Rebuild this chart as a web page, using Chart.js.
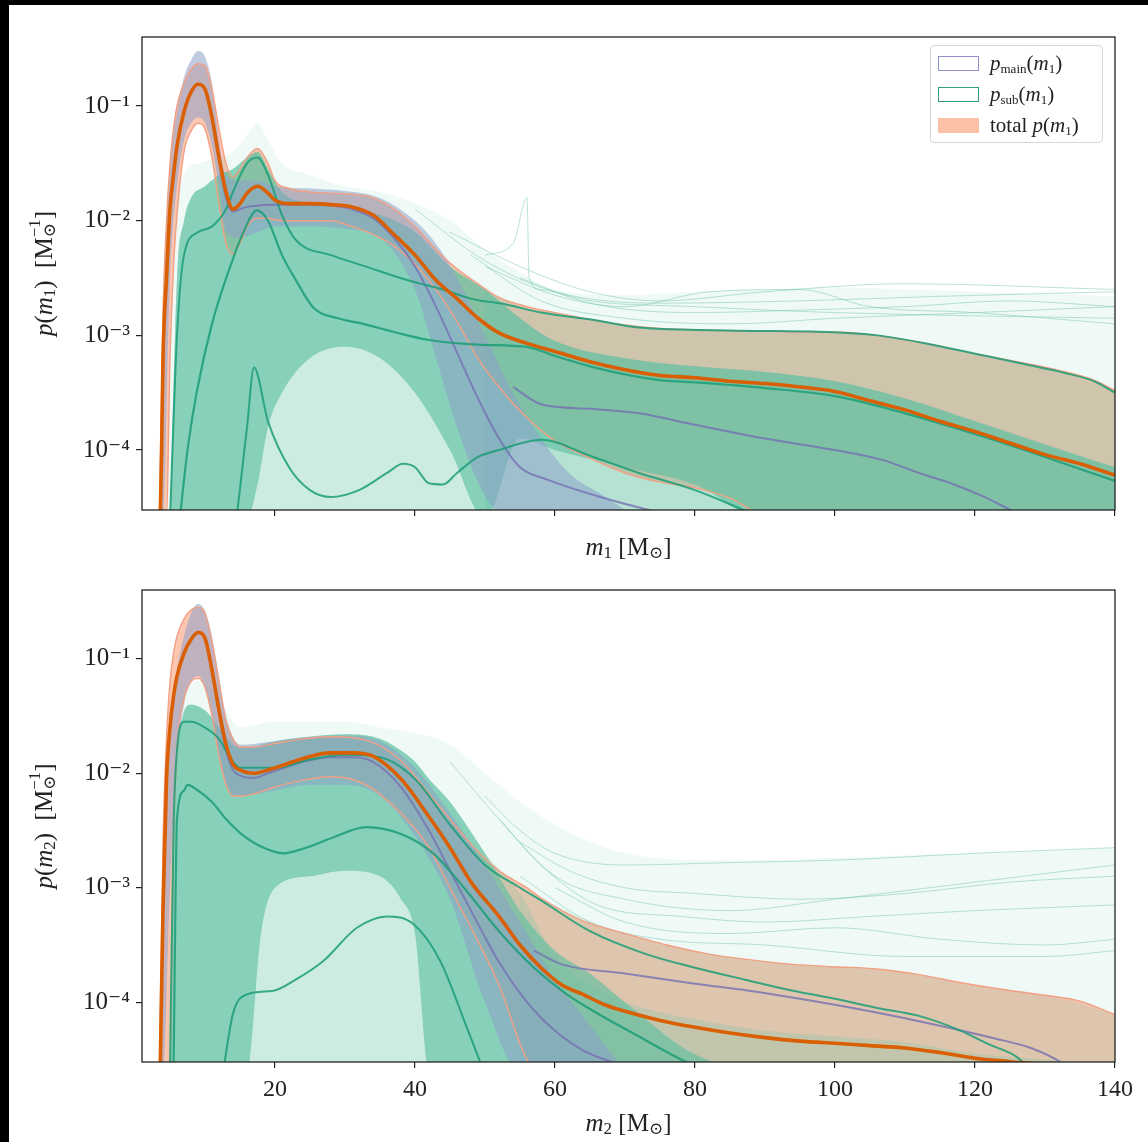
<!DOCTYPE html>
<html><head><meta charset="utf-8">
<script src="https://cdn.jsdelivr.net/npm/chart.js@4.4.1/dist/chart.umd.min.js"></script>
<style>
html,body{margin:0;padding:0;background:#fff;}
body{width:1148px;height:1142px;position:relative;overflow:hidden;font-family:"Liberation Serif","DejaVu Serif",serif;}
#c1{position:absolute;left:0;top:0;}
#c2{position:absolute;left:0;top:566px;}
.blkTop{position:absolute;left:0;top:0;width:1148px;height:5px;background:#000;}
.blkLeft{position:absolute;left:0;top:0;width:9px;height:1142px;background:#000;}
#legend{position:absolute;left:930px;top:45px;width:173px;height:98px;border:1px solid #d6d6d6;border-radius:4px;background:rgba(255,255,255,0.85);box-sizing:border-box;}
#legend .row{position:absolute;left:7px;height:18px;display:flex;align-items:center;}
#legend .sw{display:inline-block;width:41px;height:15px;box-sizing:border-box;margin-right:11px;}
#legend .tx{font-size:21px;color:#222;line-height:18px;white-space:nowrap;}
#legend sub{font-size:13px;vertical-align:-3px;line-height:0;}
</style></head><body>
<canvas id="c1" width="1148" height="566"></canvas>
<canvas id="c2" width="1148" height="576"></canvas>
<div id="legend">
  <div class="row" style="top:8px"><span class="sw" style="border:1.6px solid #8f92c9"></span><span class="tx"><i>p</i><sub>main</sub>(<i>m</i><sub>1</sub>)</span></div>
  <div class="row" style="top:39px"><span class="sw" style="border:1.6px solid #2f9f7d"></span><span class="tx"><i>p</i><sub>sub</sub>(<i>m</i><sub>1</sub>)</span></div>
  <div class="row" style="top:70px"><span class="sw" style="background:#fcc0a5"></span><span class="tx">total <i>p</i>(<i>m</i><sub>1</sub>)</span></div>
</div>
<div class="blkTop"></div><div class="blkLeft"></div>
<script>
// ---------- axis ticks ----------
const xTicks = [20, 40, 60, 80, 100, 120, 140];
const yTicks = [1e-4, 1e-3, 1e-2, 1e-1];

// ================= TOP PANEL (m1) =================
const xTotMed1 = [3.6, 3.8, 4, 4.5, 5, 5.5, 6, 7, 8, 9, 10, 11, 12, 13, 14, 15, 16, 17.5, 19, 20, 22, 25, 28, 31, 34, 37, 40, 43, 46, 49, 52, 56, 60, 65, 70, 75, 80, 85, 90, 95, 100, 105, 110, 115, 120, 125, 130, 135, 140];
const yTotMed1 = [2.5e-5, 1.0e-4, 6.3e-4, 3.16e-3, 1.26e-2, 2.51e-2, 4.47e-2, 8.91e-2, 0.132, 0.155, 0.141, 7.94e-2, 3.55e-2, 1.78e-2, 1.26e-2, 1.41e-2, 1.74e-2, 2.0e-2, 1.74e-2, 1.51e-2, 1.41e-2, 1.41e-2, 1.38e-2, 1.32e-2, 1.12e-2, 7.59e-3, 5.01e-3, 3.02e-3, 2.09e-3, 1.41e-3, 1.05e-3, 8.51e-4, 7.24e-4, 5.89e-4, 5.01e-4, 4.47e-4, 4.27e-4, 3.98e-4, 3.8e-4, 3.55e-4, 3.24e-4, 2.69e-4, 2.24e-4, 1.78e-4, 1.45e-4, 1.15e-4, 9.12e-5, 7.59e-5, 6.03e-5];

const xTotBand1 = [3.5, 4, 4.5, 5, 5.5, 6, 7, 8, 9, 10, 11, 12, 13, 14, 15, 16, 17.5, 19, 20, 22, 25, 28, 31, 34, 37, 40, 43, 46, 49, 52, 56, 60, 65, 70, 75, 80, 85, 89, 95, 100, 106, 113, 120, 127, 133, 137, 140];
const yTotUp1 = [2.5e-5, 1.58e-3, 1.0e-2, 3.16e-2, 6.31e-2, 0.1, 0.158, 0.209, 0.234, 0.224, 0.141, 6.31e-2, 3.16e-2, 2.4e-2, 2.82e-2, 3.55e-2, 4.27e-2, 3.16e-2, 2.24e-2, 1.91e-2, 1.78e-2, 1.74e-2, 1.7e-2, 1.58e-2, 1.26e-2, 8.91e-3, 5.62e-3, 3.8e-3, 2.82e-3, 2.14e-3, 1.78e-3, 1.58e-3, 1.38e-3, 1.23e-3, 1.15e-3, 1.12e-3, 1.1e-3, 1.1e-3, 1.07e-3, 1.07e-3, 1.0e-3, 8.51e-4, 6.92e-4, 5.75e-4, 4.79e-4, 4.07e-4, 3.31e-4];
const yTotLo1 = [2.5e-5, 2.5e-5, 2.5e-5, 6.31e-4, 3.98e-3, 1.12e-2, 3.98e-2, 6.03e-2, 7.08e-2, 6.31e-2, 3.55e-2, 1.41e-2, 6.31e-3, 5.13e-3, 6.31e-3, 8.91e-3, 1.05e-2, 1.05e-2, 1.02e-2, 1.0e-2, 1.0e-2, 1.0e-2, 8.91e-3, 7.59e-3, 6.03e-3, 4.17e-3, 2.51e-3, 1.32e-3, 6.31e-4, 3.55e-4, 1.91e-4, 1.2e-4, 8.51e-5, 6.31e-5, 5.25e-5, 4.68e-5, 3.8e-5, 2.82e-5, 2.5e-5, 2.5e-5, 2.5e-5, 2.5e-5, 2.5e-5, 2.5e-5, 2.5e-5, 2.5e-5, 2.5e-5];

// envelope of the faint sub-population draws
const xSparse1 = [4.5, 5.5, 7, 9, 12, 14, 16, 17.5, 19, 21, 25, 30, 35, 40, 45, 50, 55, 60, 70, 80, 90, 100, 110, 120, 130, 140];
const ySparse1 = [2.5e-5, 5.01e-3, 2.51e-2, 3.16e-2, 3.55e-2, 3.98e-2, 5.62e-2, 7.08e-2, 5.01e-2, 3.16e-2, 2.51e-2, 2.0e-2, 1.78e-2, 1.41e-2, 1.0e-2, 5.62e-3, 3.55e-3, 2.51e-3, 2.24e-3, 2.4e-3, 2.51e-3, 2.63e-3, 2.51e-3, 2.4e-3, 2.29e-3, 2.19e-3];
// draws crossing the upper part of the total band at high mass
const xMid1 = [50, 55, 60, 70, 80, 90, 100, 110, 120, 130, 140];
const yMid1 = [2.51e-3, 1.78e-3, 1.58e-3, 1.23e-3, 1.12e-3, 1.1e-3, 1.07e-3, 9.0e-4, 6.92e-4, 5.25e-4, 3.31e-4];
// envelope of the bulk and the dense core of the sub-population draws
const xDense1 = [5, 6, 7, 8, 10, 12, 14, 16, 17.5, 19, 21, 25, 30, 35, 40, 45, 50, 55, 60, 70, 80, 90, 100, 110, 120, 130, 140];
const yBulkUp1 = [2.5e-5, 3.16e-3, 1.0e-2, 1.58e-2, 2.0e-2, 2.51e-2, 2.82e-2, 3.55e-2, 3.98e-2, 2.82e-2, 1.78e-2, 1.41e-2, 1.26e-2, 1.12e-2, 7.94e-3, 3.98e-3, 2.51e-3, 1.41e-3, 8.91e-4, 6.31e-4, 5.37e-4, 4.79e-4, 3.98e-4, 2.82e-4, 1.78e-4, 1.12e-4, 7.08e-5];
const yDenseUp1 = [2.5e-5, 3.16e-3, 1.0e-2, 1.58e-2, 2.0e-2, 2.51e-2, 2.82e-2, 3.55e-2, 3.98e-2, 2.82e-2, 1.78e-2, 1.41e-2, 1.26e-2, 1.12e-2, 7.94e-3, 3.98e-3, 2.51e-3, 1.41e-3, 8.91e-4, 6.31e-4, 5.37e-4, 4.79e-4, 3.98e-4, 2.82e-4, 1.78e-4, 1.12e-4, 7.08e-5];
const yDenseLo1 = [2.5e-5, 2.5e-5, 2.5e-5, 2.5e-5, 2.5e-5, 2.5e-5, 2.5e-5, 2.5e-5, 5.01e-5, 1.58e-4, 3.16e-4, 6.31e-4, 7.94e-4, 6.31e-4, 3.16e-4, 1.0e-4, 2.5e-5, 1.26e-4, 1.0e-4, 7.08e-5, 5.01e-5, 2.5e-5, 2.5e-5, 2.5e-5, 2.5e-5, 2.5e-5, 2.5e-5];
// envelope of the main-population draws
const xMainBand1 = [3.5, 4, 5, 6, 7, 8, 9, 10, 11, 12, 13, 15, 17.5, 20, 25, 30, 35, 40, 43, 46, 50, 54, 58, 62, 67, 72];
const yMainUp1 = [2.5e-5, 1.0e-3, 3.16e-2, 8.91e-2, 0.178, 0.251, 0.302, 0.269, 0.158, 5.01e-2, 2.51e-2, 2.24e-2, 2.24e-2, 2.0e-2, 1.91e-2, 1.82e-2, 1.58e-2, 1.0e-2, 6.31e-3, 3.16e-3, 1.0e-3, 3.16e-4, 1.26e-4, 6.31e-5, 3.98e-5, 2.5e-5];
const yMainLo1 = [2.5e-5, 2.5e-5, 3.16e-3, 2.0e-2, 5.01e-2, 7.08e-2, 7.94e-2, 7.08e-2, 4.47e-2, 2.0e-2, 7.94e-3, 7.08e-3, 7.94e-3, 8.91e-3, 8.91e-3, 8.51e-3, 7.08e-3, 2.51e-3, 6.31e-4, 1.58e-4, 3.98e-5, 2.5e-5, 2.5e-5, 2.5e-5, 2.5e-5, 2.5e-5];

const xSubMed1 = [6.4, 7.5, 8.8, 11, 13.6, 15.5, 17.4, 19, 21, 23, 25.5, 29, 32.6, 37, 42, 49, 56, 60, 65, 70, 75, 80, 90, 100, 110, 120, 130, 140];
const ySubMed1 = [2.5e-5, 1.0e-4, 3.16e-4, 1.26e-3, 3.98e-3, 7.94e-3, 1.23e-2, 1.0e-2, 5.01e-3, 3.02e-3, 1.74e-3, 1.41e-3, 1.26e-3, 1.07e-3, 9.12e-4, 8.32e-4, 7.94e-4, 6.61e-4, 5.37e-4, 4.57e-4, 4.07e-4, 3.89e-4, 3.47e-4, 2.95e-4, 2.09e-4, 1.38e-4, 8.71e-5, 5.37e-5];
const xSubUp1 = [5, 6, 7, 9, 11, 13, 14, 16, 17.5, 19, 21, 23, 28, 33, 39, 44, 48, 53, 58, 66, 72, 86, 99, 106, 113, 120, 127, 133, 137, 140];
const ySubUp1 = [2.5e-5, 1.0e-3, 5.01e-3, 7.94e-3, 8.91e-3, 1.26e-2, 1.78e-2, 3.16e-2, 3.55e-2, 2.51e-2, 1.12e-2, 6.76e-3, 5.01e-3, 3.98e-3, 3.02e-3, 2.51e-3, 2.09e-3, 1.86e-3, 1.58e-3, 1.35e-3, 1.17e-3, 1.1e-3, 1.07e-3, 1.0e-3, 8.51e-4, 6.92e-4, 5.62e-4, 4.68e-4, 3.98e-4, 3.16e-4];
const xSubLo1 = [14.5, 16, 17, 19, 22, 25, 28, 32, 36, 38.3, 40, 42, 44, 46, 49, 52, 58, 65, 72, 80, 88];
const ySubLo1 = [2.5e-5, 1.58e-4, 5.25e-4, 1.78e-4, 7.08e-5, 4.47e-5, 3.89e-5, 4.47e-5, 6.31e-5, 7.59e-5, 7.08e-5, 5.13e-5, 5.01e-5, 6.31e-5, 8.71e-5, 1.0e-4, 1.23e-4, 8.91e-5, 6.31e-5, 4.47e-5, 2.82e-5];

const xMainMed1 = [3.6, 3.8, 4, 4.5, 5, 5.5, 6, 7, 8, 9, 10, 11, 12, 13, 14, 15, 16, 17.5, 19, 20, 22, 25, 28, 31, 34, 37, 40, 43, 46, 49, 52, 55, 59, 66, 75];
const yMainMed1 = [2.5e-5, 1.0e-4, 6.31e-4, 3.16e-3, 1.26e-2, 2.51e-2, 4.47e-2, 8.91e-2, 0.132, 0.155, 0.141, 7.94e-2, 3.39e-2, 1.58e-2, 1.2e-2, 1.26e-2, 1.32e-2, 1.35e-2, 1.38e-2, 1.38e-2, 1.38e-2, 1.38e-2, 1.35e-2, 1.26e-2, 1.05e-2, 7.08e-3, 3.98e-3, 1.78e-3, 7.08e-4, 2.82e-4, 1.26e-4, 7.08e-5, 5.5e-5, 3.98e-5, 2.82e-5];
const xMainUp1 = [54, 58, 65, 72, 80, 90, 100, 107, 112, 117, 121, 125];
const yMainUp1b = [3.55e-4, 2.51e-4, 2.29e-4, 2.09e-4, 1.66e-4, 1.26e-4, 1.0e-4, 8.13e-5, 6.31e-5, 5.01e-5, 3.98e-5, 3.02e-5];

// a few individual faint draws visible above the band
const xDrawA1 = [45, 55, 65, 75, 90, 110, 140];
const yDrawA1 = [7.94e-3, 3.98e-3, 2.4e-3, 2.0e-3, 2.4e-3, 2.82e-3, 2.51e-3];
const xDrawB1 = [50, 60, 70, 82, 95, 105, 120, 140];
const yDrawB1 = [3.98e-3, 2.24e-3, 1.78e-3, 2.4e-3, 2.51e-3, 1.78e-3, 1.58e-3, 1.26e-3];
const xDrawC1 = [55, 65, 80, 95, 110, 125, 140];
const yDrawC1 = [3.16e-3, 1.91e-3, 1.58e-3, 1.66e-3, 1.78e-3, 2.0e-3, 1.78e-3];
const xDrawD1 = [50, 54, 56, 56.3, 58, 65, 80, 100, 140];
const yDrawD1 = [5.01e-3, 6.31e-3, 1.58e-2, 3.16e-3, 2.51e-3, 2.0e-3, 1.78e-3, 1.58e-3, 1.41e-3];
const xDrawE1 = [40, 50, 60, 75, 95, 115, 140];
const yDrawE1 = [1.26e-2, 4.47e-3, 2.4e-3, 1.91e-3, 2.0e-3, 2.19e-3, 2.4e-3];
const xDrawF1 = [48, 58, 70, 85, 100, 120, 140];
const yDrawF1 = [5.01e-3, 2.0e-3, 1.41e-3, 1.26e-3, 1.41e-3, 1.58e-3, 1.78e-3];

// ================= BOTTOM PANEL (m2) =================
const xTotMed2 = [3.6, 4, 4.5, 5, 5.5, 6, 7, 8, 9, 10, 11, 12, 13, 14, 15, 17, 19, 21, 24, 28, 31, 34, 38, 42, 45, 48, 52, 55, 58, 61, 64, 67, 70, 75, 80, 85, 90, 95, 100, 105, 110, 115, 120, 125, 130, 133];
const yTotMed2 = [2.5e-5, 6.31e-4, 8.71e-3, 2.51e-2, 4.68e-2, 7.08e-2, 0.112, 0.148, 0.17, 0.151, 7.94e-2, 3.55e-2, 1.78e-2, 1.2e-2, 1.07e-2, 1.0e-2, 1.07e-2, 1.17e-2, 1.35e-2, 1.51e-2, 1.51e-2, 1.41e-2, 8.91e-3, 4.17e-3, 2.24e-3, 1.12e-3, 5.62e-4, 3.16e-4, 2.0e-4, 1.41e-4, 1.17e-4, 9.55e-5, 8.32e-5, 6.92e-5, 6.03e-5, 5.37e-5, 4.9e-5, 4.57e-5, 4.37e-5, 4.17e-5, 3.98e-5, 3.63e-5, 3.24e-5, 3.02e-5, 2.82e-5, 2.5e-5];

const xTotBand2 = [3.5, 4, 4.5, 5, 5.5, 6, 7, 8, 9, 10, 11, 12, 13, 14, 15, 17, 20, 24, 28, 33, 38, 42, 45, 48, 52, 56, 58, 64, 70, 76, 82, 88, 94, 100, 106, 112, 118, 124, 130, 135, 140];
const yTotUp2 = [2.5e-5, 2.51e-3, 2.0e-2, 6.31e-2, 0.112, 0.158, 0.224, 0.269, 0.282, 0.251, 0.141, 6.31e-2, 2.88e-2, 2.0e-2, 1.7e-2, 1.7e-2, 1.82e-2, 2.0e-2, 2.09e-2, 1.95e-2, 1.29e-2, 6.61e-3, 3.98e-3, 2.4e-3, 1.41e-3, 1.0e-3, 8.13e-4, 5.13e-4, 3.98e-4, 3.16e-4, 2.63e-4, 2.34e-4, 2.14e-4, 2.04e-4, 1.95e-4, 1.74e-4, 1.48e-4, 1.29e-4, 1.15e-4, 1.02e-4, 7.76e-5];
const yTotLo2 = [2.5e-5, 2.5e-5, 2.5e-5, 2.5e-5, 2.51e-3, 1.58e-2, 4.47e-2, 6.31e-2, 6.76e-2, 5.62e-2, 3.16e-2, 1.41e-2, 7.94e-3, 6.31e-3, 6.31e-3, 6.61e-3, 7.59e-3, 8.71e-3, 9.33e-3, 7.94e-3, 4.47e-3, 2.24e-3, 1.0e-3, 4.47e-4, 1.41e-4, 3.16e-5, 2.5e-5, 2.5e-5, 2.5e-5, 2.5e-5, 2.5e-5, 2.5e-5, 2.5e-5, 2.5e-5, 2.5e-5, 2.5e-5, 2.5e-5, 2.5e-5, 2.5e-5, 2.5e-5, 2.5e-5];

const xSparse2 = [4.5, 5.5, 7, 9, 12, 15, 20, 25, 30, 35, 40, 45, 50, 55, 60, 65, 70, 80, 90, 100, 110, 120, 130, 140];
const ySparse2 = [2.5e-5, 1.0e-2, 5.01e-2, 6.31e-2, 4.47e-2, 2.51e-2, 2.82e-2, 2.82e-2, 2.82e-2, 2.51e-2, 2.24e-2, 1.78e-2, 1.0e-2, 5.62e-3, 3.55e-3, 2.51e-3, 2.0e-3, 1.74e-3, 1.74e-3, 1.82e-3, 1.91e-3, 2.0e-3, 2.09e-3, 2.24e-3];
const xMid2 = [55, 60, 70, 80, 90, 100, 110, 120, 130, 140];
const yMid2 = [1.0e-3, 7.0e-4, 3.98e-4, 2.82e-4, 2.29e-4, 2.04e-4, 1.82e-4, 1.41e-4, 1.15e-4, 7.76e-5];
const xDense2 = [5, 5.5, 6.5, 8, 10, 12, 14, 16, 18, 20, 25, 30, 35, 38, 40, 42, 45, 50, 55, 60, 65, 70, 80, 90, 100, 110, 120, 130, 140];
const yBulkUp2 = [2.5e-5, 3.16e-3, 2.51e-2, 3.98e-2, 3.55e-2, 2.51e-2, 1.78e-2, 1.66e-2, 1.78e-2, 1.91e-2, 2.09e-2, 2.19e-2, 2.0e-2, 1.58e-2, 1.26e-2, 8.91e-3, 5.62e-3, 2.0e-3, 8.91e-4, 2.51e-4, 1.41e-4, 1.0e-4, 7.08e-5, 5.62e-5, 5.01e-5, 4.47e-5, 3.55e-5, 3.16e-5, 2.82e-5];
const yDenseUp2 = [2.5e-5, 3.16e-3, 2.51e-2, 3.98e-2, 3.55e-2, 2.51e-2, 1.78e-2, 1.66e-2, 1.78e-2, 1.91e-2, 2.09e-2, 2.19e-2, 2.0e-2, 1.58e-2, 1.26e-2, 8.91e-3, 5.62e-3, 2.0e-3, 6.31e-4, 2.82e-4, 1.78e-4, 1.0e-4, 3.5e-5, 2.5e-5, 2.5e-5, 2.5e-5, 2.5e-5, 2.5e-5, 2.5e-5];
const yDenseLo2 = [2.5e-5, 2.5e-5, 2.5e-5, 2.5e-5, 2.5e-5, 2.5e-5, 2.5e-5, 2.5e-5, 3.98e-4, 1.0e-3, 1.26e-3, 1.41e-3, 1.26e-3, 7.94e-4, 3.98e-4, 2.5e-5, 2.5e-5, 2.5e-5, 2.5e-5, 2.5e-5, 2.5e-5, 2.5e-5, 2.5e-5, 2.5e-5, 2.5e-5, 2.5e-5, 2.5e-5, 2.5e-5, 2.5e-5];
const xMainBand2 = [3.5, 4, 5, 6, 7, 8, 9, 10, 11, 12, 13, 15, 20, 25, 30, 35, 40, 45, 50, 55, 60, 65, 70];
const yMainUp2 = [2.5e-5, 1.0e-3, 2.51e-2, 7.94e-2, 0.158, 0.251, 0.302, 0.263, 0.158, 7.08e-2, 3.16e-2, 1.78e-2, 1.91e-2, 2.09e-2, 2.14e-2, 1.91e-2, 1.12e-2, 4.47e-3, 1.58e-3, 5.01e-4, 1.58e-4, 6.31e-5, 2.5e-5];
const yMainLo2 = [2.5e-5, 2.5e-5, 1.0e-3, 1.26e-2, 3.98e-2, 6.31e-2, 7.08e-2, 5.62e-2, 3.16e-2, 1.41e-2, 7.94e-3, 6.31e-3, 7.08e-3, 7.94e-3, 7.94e-3, 6.31e-3, 2.82e-3, 7.94e-4, 1.0e-4, 2.5e-5, 2.5e-5, 2.5e-5, 2.5e-5];

const xSubUp2 = [5, 5.5, 6, 7, 8, 10, 12, 13, 15, 20, 25, 30, 35, 40, 45, 50, 55, 58, 65, 73, 80, 87, 94, 100, 106, 112, 118, 122, 126, 128];
const ySubUp2 = [2.5e-5, 3.16e-3, 1.58e-2, 2.82e-2, 2.82e-2, 2.51e-2, 2.0e-2, 1.58e-2, 1.12e-2, 1.12e-2, 1.32e-2, 1.45e-2, 1.38e-2, 8.91e-3, 3.55e-3, 1.58e-3, 1.0e-3, 7.76e-4, 4.17e-4, 2.63e-4, 2.0e-4, 1.58e-4, 1.26e-4, 1.07e-4, 8.91e-5, 7.59e-5, 5.62e-5, 4.27e-5, 3.31e-5, 2.5e-5];
const xSubMed2 = [5.5, 6, 7, 7.5, 9, 11, 13, 15, 18, 21.2, 24, 28.3, 33, 38, 42.6, 47.4, 52, 57, 61.7, 66.4, 72, 78, 82];
const ySubMed2 = [2.5e-5, 3.98e-3, 7.08e-3, 7.94e-3, 7.08e-3, 5.62e-3, 3.98e-3, 3.02e-3, 2.29e-3, 2.0e-3, 2.19e-3, 2.75e-3, 3.39e-3, 2.95e-3, 2.0e-3, 9.33e-4, 4.17e-4, 2.0e-4, 1.17e-4, 7.76e-5, 5.01e-5, 3.16e-5, 2.5e-5];
const xSubLo2 = [12.6, 14, 16, 19.8, 23, 26.9, 31.7, 36, 39.8, 43.6, 47.4, 49.8];
const ySubLo2 = [2.5e-5, 7.94e-5, 1.17e-4, 1.26e-4, 1.58e-4, 2.29e-4, 4.47e-4, 5.62e-4, 4.79e-4, 2.29e-4, 6.03e-5, 2.5e-5];

const xMainMed2 = [3.6, 4, 4.5, 5, 5.5, 6, 7, 8, 9, 10, 11, 12, 13, 14, 15, 17, 19, 21, 24, 28, 31, 34, 38, 42, 45, 48, 52, 56, 60, 64, 68, 72];
const yMainMed2 = [2.5e-5, 6.31e-4, 8.71e-3, 2.51e-2, 4.68e-2, 7.08e-2, 0.112, 0.148, 0.17, 0.151, 7.94e-2, 3.39e-2, 1.58e-2, 1.07e-2, 9.55e-3, 9.12e-3, 1.0e-2, 1.1e-2, 1.26e-2, 1.38e-2, 1.38e-2, 1.26e-2, 7.59e-3, 3.16e-3, 1.41e-3, 6.31e-4, 2.24e-4, 1.0e-4, 5.62e-5, 3.8e-5, 3.02e-5, 2.5e-5];
const xMainUp2 = [57, 61, 70, 80, 87.7, 95, 105, 113, 123, 128, 131.6, 134];
const yMainUp2b = [2.82e-4, 2.14e-4, 1.78e-4, 1.45e-4, 1.26e-4, 1.07e-4, 8.32e-5, 6.61e-5, 4.79e-5, 3.98e-5, 3.16e-5, 2.5e-5];

const xDrawA2 = [50, 55, 60, 70, 85, 100, 120, 140];
const yDrawA2 = [6.31e-3, 3.16e-3, 2.0e-3, 1.58e-3, 1.66e-3, 1.74e-3, 2.0e-3, 2.24e-3];
const xDrawB2 = [55, 62, 70, 80, 95, 110, 125, 140];
const yDrawB2 = [2.51e-3, 1.41e-3, 1.0e-3, 8.91e-4, 7.94e-4, 8.91e-4, 1.12e-3, 1.26e-3];
const xDrawC2 = [52, 58, 66, 78, 90, 105, 120, 140];
const yDrawC2 = [3.98e-3, 1.58e-3, 7.08e-4, 5.62e-4, 5.01e-4, 5.62e-4, 6.31e-4, 7.08e-4];
const xDrawD2 = [60, 70, 85, 100, 115, 130, 140];
const yDrawD2 = [1.0e-3, 5.01e-4, 3.98e-4, 4.47e-4, 3.55e-4, 3.16e-4, 3.55e-4];
const xDrawE2 = [45, 52, 60, 70, 85, 100, 120, 140];
const yDrawE2 = [1.26e-2, 3.98e-3, 1.26e-3, 7.94e-4, 6.31e-4, 7.94e-4, 1.12e-3, 1.58e-3];
const xDrawF2 = [55, 65, 75, 90, 110, 130, 140];
const yDrawF2 = [1.26e-3, 5.01e-4, 3.55e-4, 3.16e-4, 2.51e-4, 2.51e-4, 2.82e-4];

// ---------- styling ----------
const C = {
  sparse: 'rgba(102,194,165,0.10)',
  bulk: 'rgba(102,194,165,0.25)',
  dense: 'rgba(92,190,160,0.62)',
  mainFan: 'rgba(141,160,203,0.55)',
  drawLine: 'rgba(102,194,165,0.45)',
  totFill: 'rgba(252,141,98,0.5)',
  totEdge: '#f2a084',
  sub: 'rgba(27,158,119,0.85)',
  main: 'rgba(117,112,179,0.8)',
  median: '#d95f02'
};
const FONT = '"Liberation Serif", "DejaVu Serif", serif';

function pts(xs, ys) { return xs.map((x, i) => ({ x: x, y: ys[i] })); }
function ds(label, xs, ys, o) {
  return Object.assign({
    label: label, data: pts(xs, ys), pointRadius: 0, pointHoverRadius: 0,
    borderWidth: 0, borderColor: 'rgba(0,0,0,0)', backgroundColor: 'rgba(0,0,0,0)',
    fill: false, cubicInterpolationMode: 'monotone'
  }, o);
}

function panelDatasets(P) {
  const out = [];
  // total 90% band fill sits behind the draws
  out.push(ds('total 90% band lower', P.totBandX, P.totLo, { order: 111 }));
  out.push(ds('total 90% band', P.totBandX, P.totUp, { fill: '-1', backgroundColor: C.totFill, order: 110 }));
  out.push(ds('sub draws (faint)', P.sparseX, P.sparseY, { fill: 'start', backgroundColor: C.sparse, order: 100 }));
  out.push(ds('sub draws (in band)', P.midX, P.midY, { fill: 'start', backgroundColor: P.midColor, order: 98 }));
  out.push(ds('sub draws (bulk)', P.denseX, P.bulkUp, { fill: 'start', backgroundColor: C.bulk, order: 96 }));
  out.push(ds('sub draws dense lower', P.denseX, P.denseLo, { order: 91 }));
  out.push(ds('sub draws dense', P.denseX, P.denseUp, { fill: '-1', backgroundColor: C.dense, order: 90 }));
  out.push(ds('main draws lower', P.mainBandX, P.mainLo, { order: 81 }));
  out.push(ds('main draws', P.mainBandX, P.mainUp, { fill: '-1', backgroundColor: C.mainFan, order: 80 }));
  P.draws.forEach((d, k) => out.push(ds('draw ' + k, d[0], d[1], { borderWidth: 1, borderColor: C.drawLine, order: 70 })));
  out.push(ds('total 90% lower', P.totBandX, P.totLo, { borderWidth: 1.4, borderColor: C.totEdge, order: 61 }));
  out.push(ds('total 90% upper', P.totBandX, P.totUp, { borderWidth: 1.4, borderColor: C.totEdge, order: 60 }));
  out.push(ds('main upper', P.mainUpLineX, P.mainUpLineY, { borderWidth: 2, borderColor: C.main, order: 30 }));
  out.push(ds('main median', P.mainMedX, P.mainMedY, { borderWidth: 2, borderColor: C.main, order: 29 }));
  out.push(ds('sub upper', P.subUpX, P.subUpY, { borderWidth: 2, borderColor: C.sub, order: 22 }));
  out.push(ds('sub lower', P.subLoX, P.subLoY, { borderWidth: 2, borderColor: C.sub, order: 21 }));
  out.push(ds('sub median', P.subMedX, P.subMedY, { borderWidth: 2.2, borderColor: C.sub, order: 20 }));
  out.push(ds('total median', P.totMedX, P.totMedY, { borderWidth: 3.6, borderColor: C.median, order: 1 }));
  return out;
}

// frame around the plotting area (all four sides, like the reference)
const framePlugin = {
  id: 'frame',
  afterDraw(chart) {
    const a = chart.chartArea, ctx = chart.ctx;
    ctx.save();
    ctx.strokeStyle = '#222';
    ctx.lineWidth = 1.3;
    ctx.strokeRect(a.left, a.top, a.right - a.left, a.bottom - a.top);
    ctx.restore();
  }
};

// axis titles with mixed italic / sub- and superscripts
function drawRuns(ctx, runs, size, cx, cy) {
  let x = 0, prevStart = 0, prevW = 0;
  const items = [];
  runs.forEach(r => {
    const fs = r.s ? size * 0.68 : size;
    const font = (r.i ? 'italic ' : '') + fs + 'px ' + FONT;
    ctx.font = font;
    const w = ctx.measureText(r.t).width;
    const start = r.stack ? prevStart : x;
    const dy = r.s === 'sub' ? size * 0.24 : (r.s === 'sup' ? -size * 0.38 : 0);
    items.push({ t: r.t, font: font, x: start, dy: dy });
    x = r.stack ? prevStart + Math.max(prevW, w) : start + w;
    prevStart = start; prevW = w;
  });
  const x0 = cx - x / 2;
  items.forEach(it => {
    ctx.font = it.font;
    ctx.fillText(it.t, x0 + it.x, cy + it.dy);
  });
}
function titlePlugin(xRuns, yRuns) {
  return {
    id: 'axisTitles',
    afterDraw(chart) {
      const a = chart.chartArea, ctx = chart.ctx;
      ctx.save();
      ctx.fillStyle = '#222';
      ctx.textBaseline = 'middle';
      ctx.textAlign = 'left';
      drawRuns(ctx, xRuns, 25, (a.left + a.right) / 2, chart.height - 18);
      ctx.translate(45, (a.top + a.bottom) / 2);
      ctx.rotate(-Math.PI / 2);
      drawRuns(ctx, yRuns, 25, 0, 0);
      ctx.restore();
    }
  };
}
function yTitleRuns(k) {
  return [{ t: 'p', i: 1 }, { t: '(' }, { t: 'm', i: 1 }, { t: k, s: 'sub' }, { t: ')  [M' },
          { t: '\u2299', s: 'sub' }, { t: '\u22121', s: 'sup', stack: 1 }, { t: ']' }];
}
function xTitleRuns(k) {
  return [{ t: 'm', i: 1 }, { t: k, s: 'sub' }, { t: ' [M' }, { t: '\u2299', s: 'sub' }, { t: ']' }];
}

const SUP = { '-': '\u207B', '0': '\u2070', '1': '\u00B9', '2': '\u00B2', '3': '\u00B3', '4': '\u2074', '5': '\u2075' };
function powLabel(v) {
  const e = String(Math.round(Math.log10(v)));
  return '10' + e.split('').map(c => SUP[c]).join('');
}

function makeChart(canvasId, P, cfg) {
  return new Chart(document.getElementById(canvasId), {
    type: 'line',
    data: { datasets: panelDatasets(P) },
    plugins: [framePlugin, titlePlugin(cfg.xRuns, cfg.yRuns)],
    options: {
      responsive: false, animation: false, devicePixelRatio: 1,
      events: [],
      layout: { padding: { top: cfg.padTop, right: 33, left: 0, bottom: 0 } },
      plugins: { legend: { display: false }, tooltip: { enabled: false }, filler: { propagate: false } },
      scales: {
        x: {
          type: 'linear', min: 1, max: 140,
          afterBuildTicks: s => { s.ticks = xTicks.map(v => ({ value: v })); },
          afterFit: s => { s.height = cfg.xAxisH; },
          ticks: { autoSkip: false, maxRotation: 0, padding: 7, color: '#222',
                   font: { family: FONT, size: 24 },
                   callback: v => cfg.showXLabels ? String(v) : '' },
          grid: { drawOnChartArea: false, drawTicks: true, tickLength: 6, color: '#222', lineWidth: 1.2 },
          border: { display: false },
          title: { display: false, text: cfg.xTitle }
        },
        y: {
          type: 'logarithmic', min: 3e-5, max: 0.4,
          afterBuildTicks: s => { s.ticks = yTicks.map(v => ({ value: v, major: true })); },
          afterFit: s => { s.width = 142; },
          ticks: { autoSkip: false, padding: 6, color: '#222', font: { family: FONT, size: 25 },
                   callback: v => powLabel(v) },
          grid: { drawOnChartArea: false, drawTicks: true, tickLength: 6, color: '#222', lineWidth: 1.2 },
          border: { display: false },
          title: { display: false, text: cfg.yTitle }
        }
      }
    }
  });
}

const P1 = {
  sparseX: xSparse1, sparseY: ySparse1,
  midX: xMid1, midY: yMid1, midColor: 'rgba(102,194,165,0.22)',
  denseX: xDense1, bulkUp: yBulkUp1, denseUp: yDenseUp1, denseLo: yDenseLo1,
  mainBandX: xMainBand1, mainUp: yMainUp1, mainLo: yMainLo1,
  draws: [[xDrawA1, yDrawA1], [xDrawB1, yDrawB1], [xDrawC1, yDrawC1], [xDrawD1, yDrawD1], [xDrawE1, yDrawE1], [xDrawF1, yDrawF1]],
  totBandX: xTotBand1, totUp: yTotUp1, totLo: yTotLo1,
  mainUpLineX: xMainUp1, mainUpLineY: yMainUp1b,
  mainMedX: xMainMed1, mainMedY: yMainMed1,
  subUpX: xSubUp1, subUpY: ySubUp1, subLoX: xSubLo1, subLoY: ySubLo1, subMedX: xSubMed1, subMedY: ySubMed1,
  totMedX: xTotMed1, totMedY: yTotMed1
};
const P2 = {
  sparseX: xSparse2, sparseY: ySparse2,
  midX: xMid2, midY: yMid2, midColor: 'rgba(102,194,165,0.12)',
  denseX: xDense2, bulkUp: yBulkUp2, denseUp: yDenseUp2, denseLo: yDenseLo2,
  mainBandX: xMainBand2, mainUp: yMainUp2, mainLo: yMainLo2,
  draws: [[xDrawA2, yDrawA2], [xDrawB2, yDrawB2], [xDrawC2, yDrawC2], [xDrawD2, yDrawD2], [xDrawE2, yDrawE2], [xDrawF2, yDrawF2]],
  totBandX: xTotBand2, totUp: yTotUp2, totLo: yTotLo2,
  mainUpLineX: xMainUp2, mainUpLineY: yMainUp2b,
  mainMedX: xMainMed2, mainMedY: yMainMed2,
  subUpX: xSubUp2, subUpY: ySubUp2, subLoX: xSubLo2, subLoY: ySubLo2, subMedX: xSubMed2, subMedY: ySubMed2,
  totMedX: xTotMed2, totMedY: yTotMed2
};

makeChart('c1', P1, { padTop: 37, xAxisH: 56, showXLabels: false,
  xTitle: 'm\u2081 [M\u2299]', yTitle: 'p(m\u2081) [M\u2299\u207B\u00B9]',
  xRuns: xTitleRuns('1'), yRuns: yTitleRuns('1') });
makeChart('c2', P2, { padTop: 24, xAxisH: 80, showXLabels: true,
  xTitle: 'm\u2082 [M\u2299]', yTitle: 'p(m\u2082) [M\u2299\u207B\u00B9]',
  xRuns: xTitleRuns('2'), yRuns: yTitleRuns('2') });
</script>
</body></html>
